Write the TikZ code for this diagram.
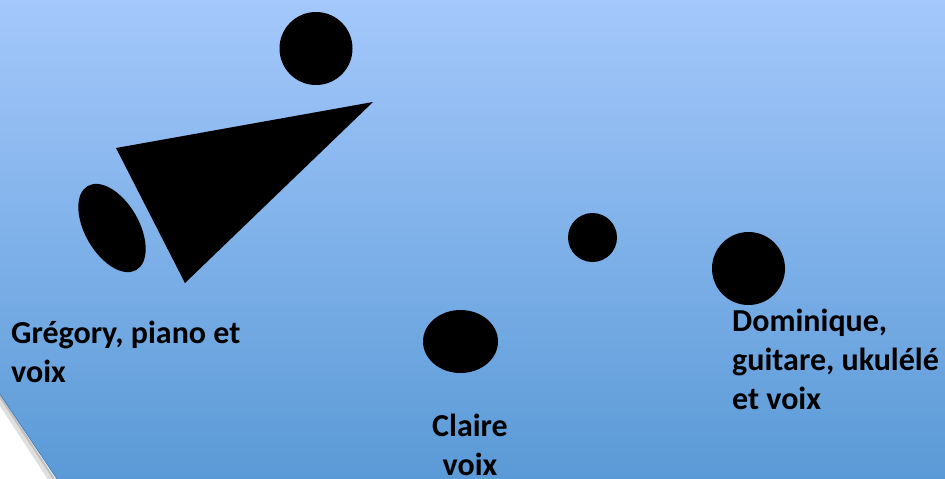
\documentclass[tikz,border=0pt]{standalone}
\usepackage{fontspec}
\setmainfont{Carlito}
\usetikzlibrary{shapes.geometric, positioning, calc}
\definecolor{skytop}{RGB}{164,200,252}
\definecolor{skybottom}{RGB}{90,154,214}

\begin{document}
\begin{tikzpicture}[x=1pt, y=-1pt,
  blob/.style={fill=black, draw=none, inner sep=0pt},
  who/.style={font=\bfseries\fontsize{32}{38.7}\selectfont, inner sep=0pt, align=left}]
  \useasboundingbox (0,0) rectangle (945,479);
  \shade[top color=skytop, bottom color=skybottom] (0,0) rectangle (945,479);
  % page corner
  \fill[white] (0,395) -- (57,479) -- (0,479) -- cycle;
  \draw[gray!25, line width=5pt] (-3,397) -- (52,481);
  \draw[gray!50, line width=2pt] (-1,395) -- (54,479);
  \draw[skybottom!85!black, line width=0.8pt] (0,394) -- (57,479);
  % piano
  \node[blob, circle, minimum size=73pt] (head) at (316,48.5) {};
  \coordinate (lid1) at (116,148);
  \coordinate (lid2) at (373,102);
  \coordinate (lid3) at (185,283);
  \fill (lid1) -- (lid2) -- (lid3) -- cycle;
  \node[blob, ellipse, minimum width=97pt, minimum height=54pt, rotate=-60] (stool) at (112,228) {};
  % Claire
  \node[blob, ellipse, minimum width=75pt, minimum height=63pt] (claire) at (460.5,341.5) {};
  % Dominique
  \node[blob, circle, minimum size=49pt] (uke) at (592.5,237.5) {};
  \node[blob, circle, minimum size=73pt] (dom) at (748.5,268.5) {};
  % names (base = last line)
  \node[who, anchor=base west] (greg) at (11,382) {Grégory, piano et\\voix};
  \node[who, anchor=base, align=center] (clai) at (470,475) {Claire\\voix};
  \node[who, anchor=base west] (domi) at (732,409) {Dominique,\\guitare, ukulélé\\et voix};
\end{tikzpicture}
\end{document}
